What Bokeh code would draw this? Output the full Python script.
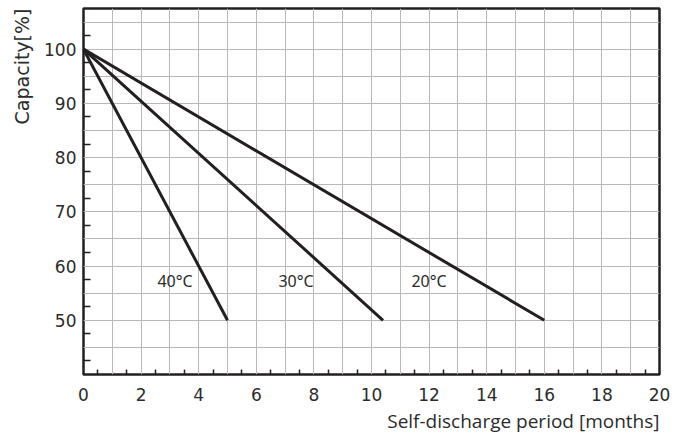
from bokeh.plotting import figure
from bokeh.models import FixedTicker, Range1d, ColumnDataSource, Title
from bokeh.core.properties import value
from bokeh.embed import file_html
from bokeh.resources import INLINE

# ---- data ----
months_40 = [0.0, 5.0]
cap_40 = [100.0, 50.0]
months_30 = [0.0, 10.4]
cap_30 = [100.0, 50.0]
months_20 = [0.0, 16.0]
cap_20 = [100.0, 50.0]

curve_labels = ["40°C", "30°C", "20°C"]
curve_label_x = [3.18, 7.38, 12.0]
curve_label_y = [57.2, 57.2, 57.2]

x_tick_values = [0, 2, 4, 6, 8, 10, 12, 14, 16, 18, 20]
y_tick_values = [50, 60, 70, 80, 90, 100]

x_label = "Self-discharge period [months]"
y_label = "Capacity[%]"

INK = "#231f20"
TXT = "#2b2b2b"

p = figure(width=682, height=436,
           x_range=Range1d(0, 20), y_range=Range1d(40, 107.5),
           output_backend="svg", toolbar_location=None,
           min_border_left=83, min_border_right=23,
           min_border_top=8, min_border_bottom=59)
p.background_fill_color = "white"
p.border_fill_color = "white"
p.outline_line_color = INK
p.outline_line_width = 2.5

# axes
p.xaxis.ticker = FixedTicker(ticks=x_tick_values,
                             minor_ticks=[i + 0.5 for i in range(20)])
p.yaxis.ticker = FixedTicker(ticks=y_tick_values,
                             minor_ticks=[42.5 + 5 * i for i in range(13)])
for ax in (p.xaxis[0], p.yaxis[0]):
    ax.axis_line_color = None
    ax.major_tick_line_color = None
    ax.major_tick_out = 0
    ax.major_tick_in = 0
    ax.minor_tick_line_color = INK
    ax.minor_tick_line_width = 1.5
    ax.minor_tick_out = 0
    ax.major_label_text_font = "DejaVu Sans"
    ax.major_label_text_font_size = "17px"
    ax.major_label_text_color = TXT
p.xaxis.minor_tick_in = 5
p.yaxis.minor_tick_in = 7
p.xaxis.major_label_standoff = 13
p.yaxis.major_label_standoff = 7

# axis titles as side titles (right/top aligned)
p.add_layout(Title(text=y_label, align="right", text_font="DejaVu Sans",
                   text_font_size="19px", text_font_style="normal",
                   text_color=TXT, standoff=17), "left")
p.add_layout(Title(text=x_label, align="right", text_font="Open Sans",
                   text_font_size="19px", text_font_style="normal",
                   text_color=TXT, standoff=5), "below")

# grid
p.xgrid.ticker = FixedTicker(ticks=list(range(0, 21)))
p.ygrid.ticker = FixedTicker(ticks=[40 + 5 * i for i in range(14)])
p.xgrid.grid_line_color = "#b8b8b8"
p.ygrid.grid_line_color = "#b8b8b8"
p.xgrid.grid_line_width = 1
p.ygrid.grid_line_width = 1

# curves
for xs, ys in ((months_40, cap_40), (months_30, cap_30), (months_20, cap_20)):
    p.line(xs, ys, line_color=INK, line_width=3)

src = ColumnDataSource(dict(x=curve_label_x, y=curve_label_y, t=curve_labels))
p.text(x="x", y="y", text="t", source=src, text_font=value("Noto Sans"),
       text_font_size="16px", text_color=TXT,
       text_align="center", text_baseline="middle")

open("out.html", "w").write(file_html(p, INLINE))
